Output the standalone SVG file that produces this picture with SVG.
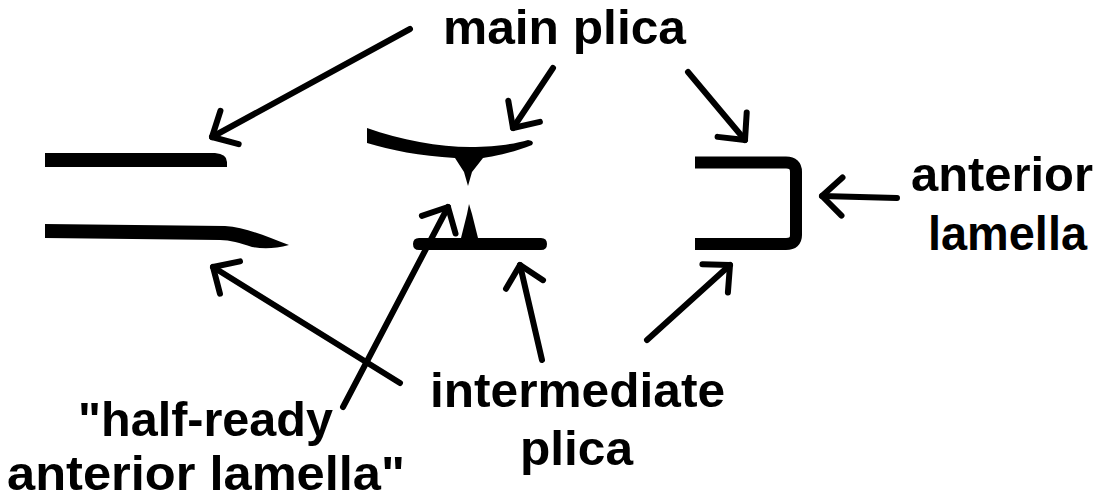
<svg xmlns="http://www.w3.org/2000/svg" width="1105" height="502" viewBox="0 0 1105 502">
  <style>
    .lbl { font-family: "Liberation Sans", Arial, sans-serif; font-weight: bold; font-size: 48px; fill: #000; }
    .shape { fill: #000; stroke: none; }
    .arrow { fill: none; stroke: #000; stroke-width: 6; stroke-linecap: round; marker-end: url(#head); }
  </style>
  <defs>
    <marker id="head" markerUnits="userSpaceOnUse" markerWidth="60" markerHeight="60" refX="0" refY="0" orient="auto" overflow="visible">
      <path d="M-20,-19 L0,0 L-20,19" fill="none" stroke="#000" stroke-width="6" stroke-linecap="round" stroke-linejoin="round"/>
    </marker>
  </defs>
  <rect width="1105" height="502" fill="#fff"/>

  <!-- left pair of bars -->
  <g id="left-upper-bar">
    <path class="shape" d="M45,153 L215,153 Q227,154 227,162 L227,167 L45,167 Z"/>
  </g>
  <g id="left-lower-bar">
    <path class="shape" d="M45,224 L225,226 C245,227 265,236 289,245 C275,249 262,249 252,247 C240,243 230,240 220,240 L45,238 Z"/>
  </g>

  <!-- middle pair with the two spikes -->
  <g id="middle-upper-bar">
    <path class="shape" d="M367,128 C400,140 440,147 470,147 C495,147 515,144 528,140 Q535,141 532,145 C515,152 495,156 483,158 L472,172 L468,186 L464,172 L455,158 C420,156 390,150 367,143 Z"/>
  </g>
  <g id="middle-lower-bar">
    <path class="shape" d="M419,238 L461,238 L467,214 L469,204 L472,214 L478,238 L541,238 Q547,238 547,244 Q547,250 541,250 L419,250 Q413,250 413,244 Q413,238 419,238 Z"/>
  </g>

  <!-- right bracket -->
  <g id="right-bracket">
    <path d="M695,162.5 L786,162.5 Q796,162.5 796,172 L796,235 Q796,244 786,244 L695,244" fill="none" stroke="#000" stroke-width="12"/>
  </g>

  <!-- labels -->
  <g id="label-main-plica">
    <text class="lbl" x="443" y="44" textLength="243" lengthAdjust="spacingAndGlyphs">main plica</text>
  </g>
  <g id="label-anterior-lamella">
    <text class="lbl" x="911" y="191" textLength="182" lengthAdjust="spacingAndGlyphs">anterior</text>
    <text class="lbl" x="928" y="250" textLength="159" lengthAdjust="spacingAndGlyphs">lamella</text>
  </g>
  <g id="label-intermediate-plica">
    <text class="lbl" x="430" y="407" textLength="295" lengthAdjust="spacingAndGlyphs">intermediate</text>
    <text class="lbl" x="520" y="465" textLength="113" lengthAdjust="spacingAndGlyphs">plica</text>
  </g>
  <g id="label-half-ready">
    <text class="lbl" x="78" y="436" textLength="255" lengthAdjust="spacingAndGlyphs">"half-ready</text>
    <text class="lbl" x="7" y="490" textLength="398" lengthAdjust="spacingAndGlyphs">anterior lamella"</text>
  </g>

  <!-- connectors -->
  <g id="connectors">
    <path class="arrow" d="M410,29 L212,137"/>
    <path class="arrow" d="M553,68 L513,128"/>
    <path class="arrow" d="M688,72 L745,140"/>
    <path class="arrow" d="M897,198 L822,196"/>
    <path class="arrow" d="M400,383 L213,267"/>
    <path class="arrow" d="M343,407 L448,207"/>
    <path class="arrow" d="M542,360 L520,265"/>
    <path class="arrow" d="M647,340 L730,265"/>
  </g>
</svg>
